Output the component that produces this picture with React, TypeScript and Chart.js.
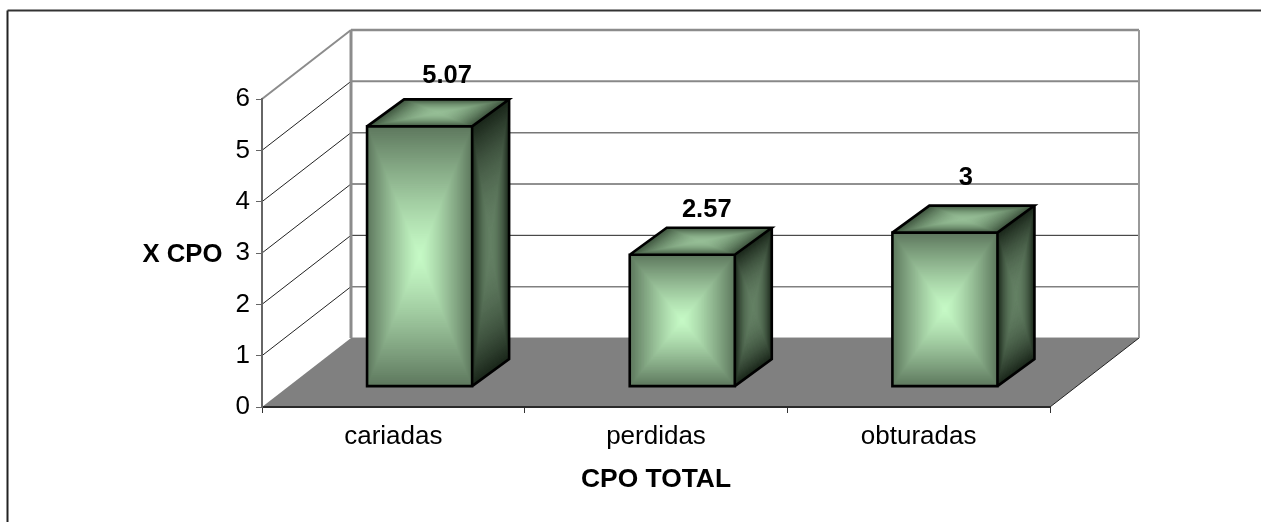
import React, { useEffect, useRef } from "react";
import { Chart, registerables } from "chart.js";

Chart.register(...registerables);

const categories = ["cariadas", "perdidas", "obturadas"];
const seriesValues = [5.07, 2.57, 3];
const valueLabels = ["5.07", "2.57", "3"];
const yTicks = [0, 1, 2, 3, 4, 5, 6];
const yTitle = "X CPO";
const xTitle = "CPO TOTAL";

const FONT = '"Liberation Sans", Arial, sans-serif';
const WIDTH = 1261;
const HEIGHT = 522;
const DEPTH_X = 89;
const DEPTH_Y = -69;
const BAR_OFFSET = 0.295;
const BAR_DEPTH_X = 37;
const BAR_DEPTH_Y = -27;
const labelNudge = [[27.5, -43], [24.5, -38], [21, -48]];
const gridStyle = [
  null,
  ["#808080", 1.5],
  ["#222222", 1],
  ["#222222", 1],
  ["#777777", 1.5],
  ["#888888", 2],
  ["#8c8c8c", 2.5],
];

type RGB = [number, number, number];
const FRONT: [RGB, RGB] = [[198, 250, 198], [94, 120, 94]];
const SIDE: [RGB, RGB] = [[100, 128, 100], [26, 38, 26]];
const TOP: [RGB, RGB] = [[150, 190, 150], [62, 84, 62]];

function shadeQuad(ctx: CanvasRenderingContext2D, ox: number, oy: number, ux: number, uy: number, vx: number, vy: number, ramp: [RGB, RGB], power: number) {
  ctx.save();
  ctx.beginPath();
  ctx.moveTo(ox, oy);
  ctx.lineTo(ox + ux, oy + uy);
  ctx.lineTo(ox + ux + vx, oy + uy + vy);
  ctx.lineTo(ox + vx, oy + vy);
  ctx.closePath();
  ctx.clip();
  ctx.transform(ux, uy, vx, vy, ox, oy);
  const steps = 70;
  for (let i = 0; i <= steps; i++) {
    const t = 1 - i / steps;
    const m = Math.pow(t, power);
    const c = ramp[0].map((a, k) => Math.round(a + (ramp[1][k] - a) * m));
    ctx.fillStyle = `rgb(${c[0]},${c[1]},${c[2]})`;
    ctx.fillRect(0.5 - t / 2, 0.5 - t / 2, t, t);
  }
  ctx.restore();
}

function line(ctx: CanvasRenderingContext2D, x1: number, y1: number, x2: number, y2: number, color: string, width: number) {
  ctx.strokeStyle = color;
  ctx.lineWidth = width;
  ctx.beginPath();
  ctx.moveTo(x1, y1);
  ctx.lineTo(x2, y2);
  ctx.stroke();
}

const scene3d = {
  id: "scene3d",
  beforeDraw(chart: any) {
    const { ctx, chartArea: a, scales } = chart;
    const y = scales.y;
    ctx.save();
    // outer frame (open at right and bottom)
    line(ctx, 7.5, HEIGHT, 7.5, 10.5, "#222222", 2);
    line(ctx, 7.5, 10.5, WIDTH, 10.5, "#333333", 2);

    const zeroY = y.getPixelForValue(0);
    const topY = y.getPixelForValue(yTicks[yTicks.length - 1]);

    // floor
    ctx.fillStyle = "#808080";
    ctx.beginPath();
    ctx.moveTo(a.left, zeroY);
    ctx.lineTo(a.left + DEPTH_X, zeroY + DEPTH_Y);
    ctx.lineTo(a.right + DEPTH_X, zeroY + DEPTH_Y);
    ctx.lineTo(a.right, zeroY);
    ctx.closePath();
    ctx.fill();
    line(ctx, a.left + DEPTH_X, zeroY + DEPTH_Y - 0.5, a.right + DEPTH_X, zeroY + DEPTH_Y - 0.5, "#c4c4c4", 1);
    line(ctx, a.right, zeroY, a.right + DEPTH_X, zeroY + DEPTH_Y, "#222222", 1);

    // gridlines: back wall + side wall
    yTicks.forEach((v, i) => {
      const s = gridStyle[i];
      if (!s) return;
      const py = y.getPixelForValue(v);
      line(ctx, a.left + DEPTH_X, py + DEPTH_Y, a.right + DEPTH_X, py + DEPTH_Y, s[0] as string, s[1] as number);
      const top = v === yTicks[yTicks.length - 1];
      line(ctx, a.left, py, a.left + DEPTH_X, py + DEPTH_Y, top ? "#8c8c8c" : "#222222", top ? 2 : 1);
    });

    // wall edges
    line(ctx, a.left + DEPTH_X, topY + DEPTH_Y, a.left + DEPTH_X, zeroY + DEPTH_Y, "#8c8c8c", 3);
    line(ctx, a.right + DEPTH_X, topY + DEPTH_Y, a.right + DEPTH_X, zeroY + DEPTH_Y, "#999999", 2);
    ctx.restore();
  },
  afterDatasetsDraw(chart: any) {
    const { ctx } = chart;
    const meta = chart.getDatasetMeta(0);
    ctx.save();
    meta.data.forEach((el: any, i: number) => {
      const w = el.width;
      const left = el.x - w / 2 + DEPTH_X * BAR_OFFSET;
      const right = left + w;
      const top = el.y + DEPTH_Y * BAR_OFFSET;
      const bottom = el.base + DEPTH_Y * BAR_OFFSET;
      const h = bottom - top;

      shadeQuad(ctx, left, top, w, 0, 0, h, FRONT, 1.25);
      shadeQuad(ctx, right, top, BAR_DEPTH_X, BAR_DEPTH_Y, 0, h, SIDE, 2);
      shadeQuad(ctx, left, top, w, 0, BAR_DEPTH_X, BAR_DEPTH_Y, TOP, 1.8);

      ctx.strokeStyle = "#000000";
      ctx.lineWidth = 2.6;
      ctx.lineJoin = "miter";
      ctx.beginPath();
      ctx.rect(left, top, w, h);
      ctx.moveTo(left, top);
      ctx.lineTo(left + BAR_DEPTH_X, top + BAR_DEPTH_Y);
      ctx.lineTo(right + BAR_DEPTH_X, top + BAR_DEPTH_Y);
      ctx.lineTo(right, top);
      ctx.moveTo(right + BAR_DEPTH_X, top + BAR_DEPTH_Y);
      ctx.lineTo(right + BAR_DEPTH_X, bottom + BAR_DEPTH_Y);
      ctx.lineTo(right, bottom);
      ctx.stroke();

      ctx.fillStyle = "#000000";
      ctx.font = `bold 25.5px ${FONT}`;
      ctx.textAlign = "center";
      ctx.textBaseline = "alphabetic";
      ctx.fillText(valueLabels[i], left + w / 2 + labelNudge[i][0], top + labelNudge[i][1]);
    });
    ctx.restore();
  },
  afterDraw(chart: any) {
    const { ctx } = chart;
    ctx.save();
    ctx.fillStyle = "#000000";
    ctx.font = `bold 25.7px ${FONT}`;
    ctx.textAlign = "center";
    ctx.textBaseline = "alphabetic";
    ctx.fillText(yTitle, 182.5, 262);
    ctx.restore();
  },
};

export default function App() {
  const ref = useRef<HTMLCanvasElement>(null);
  useEffect(() => {
    if (!ref.current) return;
    const chart = new Chart(ref.current, {
      type: "bar",
      data: {
        labels: categories,
        datasets: [
          {
            data: seriesValues,
            backgroundColor: "rgba(0,0,0,0)",
            borderWidth: 0,
            categoryPercentage: 1,
            barPercentage: 0.4,
          },
        ],
      },
      plugins: [scene3d],
      options: {
        animation: false,
        responsive: false,
        events: [],
        layout: { padding: { left: 162, right: 211, top: 99, bottom: 25 } },
        plugins: { legend: { display: false }, tooltip: { enabled: false }, title: { display: false } },
        scales: {
          x: {
            afterFit: (s: any) => {
              s.height = 90;
            },
            grid: { drawOnChartArea: false, drawTicks: true, tickLength: 6, color: "#333333", offset: true },
            border: { color: "#2a2a2a", width: 2 },
            ticks: { color: "#000000", font: { family: FONT, size: 26 }, padding: 8, maxRotation: 0 },
            title: {
              display: true,
              text: xTitle,
              color: "#000000",
              font: { family: FONT, size: 26.4, weight: "bold" },
              padding: { top: 0, bottom: 1 },
            },
          },
          y: {
            min: 0,
            max: 6,
            afterFit: (s: any) => {
              s.width = 100;
            },
            afterBuildTicks: (s: any) => {
              s.ticks = yTicks.map((value) => ({ value }));
            },
            grid: { drawOnChartArea: false, drawTicks: true, tickLength: 6, color: "#666666" },
            border: { color: "#666666", width: 2 },
            ticks: { color: "#000000", font: { family: FONT, size: 26 }, padding: 6 },
          },
        },
      },
    } as any);
    return () => chart.destroy();
  }, []);
  return (
    <canvas
      ref={ref}
      width={WIDTH}
      height={HEIGHT}
      style={{ position: "absolute", left: 0, top: 0, width: WIDTH, height: HEIGHT, display: "block" }}
    />
  );
}
